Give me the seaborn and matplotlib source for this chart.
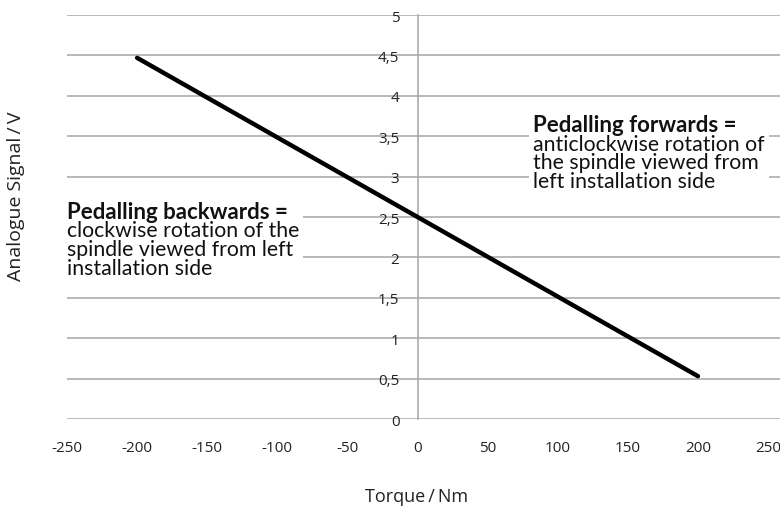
import matplotlib
matplotlib.use("Agg")
import matplotlib.pyplot as plt
import matplotlib.transforms as mtransforms
from matplotlib.patches import Rectangle
import seaborn as sns
import pandas as pd

# chart values
torque = [-200, 200]
signal = [4.47, 0.53]
x_ticks = [-250, -200, -150, -100, -50, 0, 50, 100, 150, 200, 250]
y_ticks = [0, 0.5, 1, 1.5, 2, 2.5, 3, 3.5, 4, 4.5, 5]
y_tick_labels = ["0", "0,5", "1", "1,5", "2", "2,5", "3", "3,5", "4", "4,5", "5"]

backwards_title = "Pedalling backwards ="
backwards_body = ["clockwise rotation of the", "spindle viewed from left",
                  "installation side"]
forwards_title = "Pedalling forwards ="
forwards_body = ["anticlockwise rotation of", "the spindle viewed from",
                 "left installation side"]

df = pd.DataFrame({"Torque": torque, "Signal": signal})

sns.set_style("white")
plt.rcParams["font.family"] = ["Open Sans", "DejaVu Sans"]

fig = plt.figure(figsize=(7.8, 5.09), dpi=100)
ax = fig.add_axes([0.0859, 0.1768, 0.9141, 0.7937])

grid_col = "#a6a6a6"
for yv in y_ticks:
    ax.axhline(yv, color=grid_col, lw=1.1, zorder=0)

sns.lineplot(data=df, x="Torque", y="Signal", color="black", linewidth=3.2,
             ax=ax, zorder=3)

ax.set_xlim(-250, 258.5)
ax.set_ylim(0, 5)

for s in ["top", "right", "bottom"]:
    ax.spines[s].set_visible(False)
ax.spines["left"].set_position(("data", 0))
ax.spines["left"].set_color(grid_col)
ax.spines["left"].set_linewidth(1.1)
ax.spines["left"].set_zorder(1)

ax.set_xticks(x_ticks)
ax.set_xticklabels([str(v) for v in x_ticks])
ax.set_yticks(y_ticks)
ax.set_yticklabels(y_tick_labels)
ax.tick_params(axis="x", length=0, pad=16, labelsize=11, colors="#222222")
ax.tick_params(axis="y", length=0, pad=13, labelsize=11, colors="#222222")
shift = mtransforms.ScaledTranslation(0, -3 / 100, fig.dpi_scale_trans)
for lab in ax.get_yticklabels():
    lab.set_verticalalignment("center")
    lab.set_transform(lab.get_transform() + shift)
ax.set_xlabel("")
ax.set_ylabel("")

fig.text(0.534, 0.024, "Torque\u2009/\u2009Nm", ha="center", va="center",
         fontsize=13, color="#222222")
fig.text(0.020, 0.615, "Analogue Signal\u2009/\u2009V", ha="center", va="center",
         rotation=90, fontsize=14, color="#222222")

# annotation blocks: bold title + body, white patch behind each block
lato = ["Lato", "DejaVu Sans"]
blocks = []
for x0, title, body, y_title, y_body in [
        (-250, backwards_title, backwards_body, 2.56, 2.45),
        (82.5, forwards_title, forwards_body, 3.63, 3.52)]:
    t1 = ax.text(x0, y_title, title, fontsize=16, fontweight="bold", family=lato,
                 color="#111111", va="center", ha="left", zorder=5)
    t2 = ax.text(x0, y_body, "\n".join(body), fontsize=15.3, family=lato,
                 color="#111111", va="top", ha="left", linespacing=0.93, zorder=5)
    blocks.append((t1, t2))

fig.canvas.draw()
renderer = fig.canvas.get_renderer()
inv = ax.transData.inverted()
for t1, t2 in blocks:
    bb = mtransforms.Bbox.union([t1.get_window_extent(renderer),
                                 t2.get_window_extent(renderer)]).expanded(1.0, 1.0)
    (x_a, y_a), (x_b, y_b) = inv.transform([[bb.x0 - 4, bb.y0 - 2], [bb.x1 + 4, bb.y1 + 2]])
    ax.add_patch(Rectangle((x_a, y_a), x_b - x_a, y_b - y_a, facecolor="white",
                           edgecolor="none", zorder=4))

fig.savefig("out.png", dpi=100)
